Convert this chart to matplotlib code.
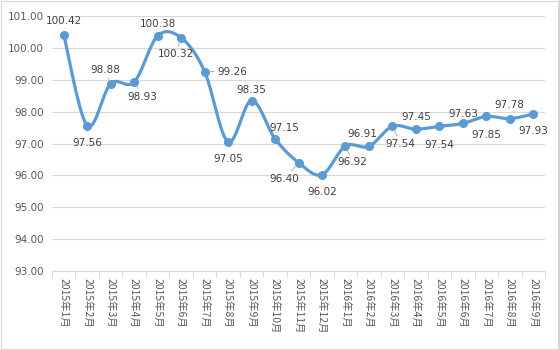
import numpy as np
import matplotlib.pyplot as plt
from matplotlib.patches import Rectangle

plt.rcParams['font.family'] = ['Noto Sans CJK SC', 'DejaVu Sans']

# data
months = ['2015年1月', '2015年2月', '2015年3月', '2015年4月', '2015年5月', '2015年6月',
          '2015年7月', '2015年8月', '2015年9月', '2015年10月', '2015年11月', '2015年12月',
          '2016年1月', '2016年2月', '2016年3月', '2016年4月', '2016年5月', '2016年6月',
          '2016年7月', '2016年8月', '2016年9月']
values = [100.42, 97.56, 98.88, 98.93, 100.38, 100.32, 99.26, 97.05, 98.35, 97.15,
          96.40, 96.02, 96.92, 96.91, 97.54, 97.45, 97.54, 97.63, 97.85, 97.78, 97.93]

# label offsets in points (dx, dy) and whether a leader line is drawn
label_offsets = [(0, 6), (0, -9), (-4, 6), (6, -7), (0, 5), (-4, -8), (9, 0),
                 (0, -9), (0, 4), (7, 4), (-10, -8), (0, -9), (5, -8), (-5, 5),
                 (6, -9), (0, 5), (0, -10), (0, 3), (0, -10), (0, 6), (0, -9)]
leaders = [False, False, True, True, False, True, True, False, False, True,
           True, False, True, True, True, False, False, False, False, False, False]

blue = '#5B9BD5'
grid_c = '#D9D9D9'
text_c = '#404040'
tick_c = '#595959'


def smooth(xs, ys, n=30):
    # Catmull-Rom style bezier, like the spreadsheet's smoothed line
    xs = np.asarray(xs, float)
    ys = np.asarray(ys, float)
    px = np.concatenate([[xs[0]], xs, [xs[-1]]])
    py = np.concatenate([[ys[0]], ys, [ys[-1]]])
    outx, outy = [], []
    t = np.linspace(0, 1, n)
    for i in range(1, len(px) - 2):
        p0 = np.array([px[i], py[i]])
        p3 = np.array([px[i + 1], py[i + 1]])
        p1 = p0 + (np.array([px[i + 1], py[i + 1]]) - np.array([px[i - 1], py[i - 1]])) / 6
        p2 = p3 - (np.array([px[i + 2], py[i + 2]]) - np.array([px[i], py[i]])) / 6
        b = ((1 - t) ** 3)[:, None] * p0 + (3 * (1 - t) ** 2 * t)[:, None] * p1 \
            + (3 * (1 - t) * t ** 2)[:, None] * p2 + (t ** 3)[:, None] * p3
        outx.extend(b[:, 0])
        outy.extend(b[:, 1])
    return outx, outy


fig = plt.figure(figsize=(5.59, 3.5), dpi=100)
ax = fig.add_axes([0.093, 0.226, 0.882, 0.728])

x = np.arange(len(values))
sx, sy = smooth(x, values)
ax.plot(sx, sy, color=blue, lw=2.3, solid_capstyle='round', zorder=3)
ax.plot(x, values, 'o', color=blue, ms=5.5, zorder=4)

for i, v in enumerate(values):
    dx, dy = label_offsets[i]
    ha = 'center'
    va = 'bottom' if dy > 0 else 'top'
    if dy == 0:
        ha, va = 'left', 'center'
    arrow = None
    if leaders[i]:
        arrow = dict(arrowstyle='-', color='#A6A6A6', lw=0.6, shrinkA=0, shrinkB=3)
    ax.annotate(f'{v:.2f}', (x[i], v), xytext=(dx, dy), textcoords='offset points',
                ha=ha, va=va, fontsize=7.5, color=text_c, family='DejaVu Sans',
                arrowprops=arrow, zorder=5)

ax.set_xlim(-0.5, len(values) - 0.5)
ax.set_ylim(93, 101)
ax.set_yticks(np.arange(93, 101.5, 1))
ax.set_yticklabels([f'{t:.2f}' for t in np.arange(93, 101.5, 1)], family='DejaVu Sans')
ax.yaxis.grid(True, color=grid_c, lw=0.8)
ax.set_axisbelow(True)

ax.set_xticks(x)
ax.set_xticklabels(months, rotation=270, fontsize=7.5, color=tick_c, va='top', ha='center')
ax.set_xticks(np.arange(-0.5, len(values)), minor=True)
ax.tick_params(axis='x', which='major', length=0, pad=5)
ax.tick_params(axis='x', which='minor', length=4, color=grid_c, width=0.8)
ax.tick_params(axis='y', length=0, labelsize=7.5, labelcolor=tick_c, pad=6)

for s in ['top', 'right', 'left']:
    ax.spines[s].set_visible(False)
ax.spines['bottom'].set_color(grid_c)
ax.spines['bottom'].set_linewidth(0.8)

fig.patches.append(Rectangle((0.002, 0.003), 0.996, 0.994, transform=fig.transFigure,
                             fill=False, edgecolor='#D9D9D9', lw=0.8))

fig.savefig('out.png', dpi=100)
